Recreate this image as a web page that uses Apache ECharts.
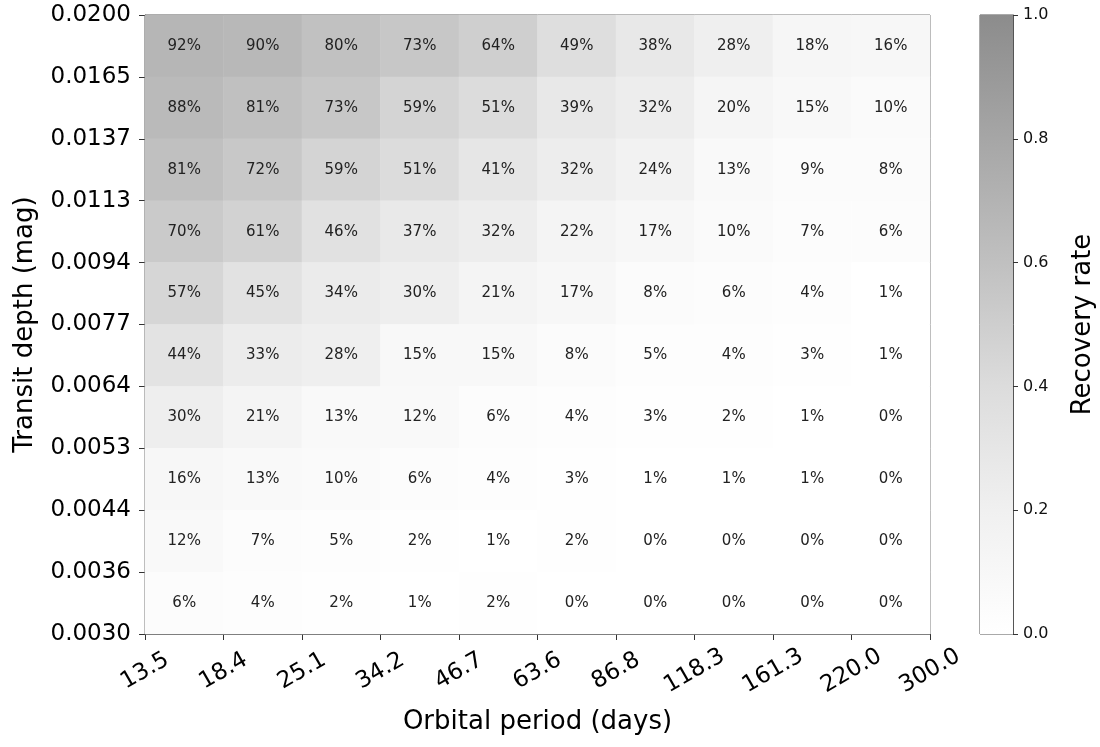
<!DOCTYPE html>
<html>
<head>
<meta charset="utf-8">
<script src="https://cdn.jsdelivr.net/npm/echarts@6/dist/echarts.min.js"></script>
<style>
html,body{margin:0;padding:0;background:#fff;}
#chart{width:1100px;height:747px;}
</style>
</head>
<body>
<div id="chart"></div>
<script>
// Tick labels at cell boundaries
const periodLabels = ['13.5','18.4','25.1','34.2','46.7','63.6','86.8','118.3','161.3','220.0','300.0'];
const depthLabels = ['0.0030','0.0036','0.0044','0.0053','0.0064','0.0077','0.0094','0.0113','0.0137','0.0165','0.0200'];

// Recovery rate (%) rows listed from top (deepest transit) to bottom
const row1  = [92, 90, 80, 73, 64, 49, 38, 28, 18, 16];
const row2  = [88, 81, 73, 59, 51, 39, 32, 20, 15, 10];
const row3  = [81, 72, 59, 51, 41, 32, 24, 13,  9,  8];
const row4  = [70, 61, 46, 37, 32, 22, 17, 10,  7,  6];
const row5  = [57, 45, 34, 30, 21, 17,  8,  6,  4,  1];
const row6  = [44, 33, 28, 15, 15,  8,  5,  4,  3,  1];
const row7  = [30, 21, 13, 12,  6,  4,  3,  2,  1,  0];
const row8  = [16, 13, 10,  6,  4,  3,  1,  1,  1,  0];
const row9  = [12,  7,  5,  2,  1,  2,  0,  0,  0,  0];
const row10 = [ 6,  4,  2,  1,  2,  0,  0,  0,  0,  0];
const rowsTopToBottom = [row1,row2,row3,row4,row5,row6,row7,row8,row9,row10];

const nx = periodLabels.length - 1;
const ny = depthLabels.length - 1;
const xCats = periodLabels.slice(0, nx);
const yCats = depthLabels.slice(0, ny);

const data = [];
rowsTopToBottom.forEach((row, r) => {
  const yi = ny - 1 - r;
  row.forEach((v, xi) => data.push([xi, yi, v / 100]));
});

// Colour scale (colorbar) and cell colours (cells drawn semi-transparent)
const barStops = [255, 240, 220, 192, 166, 140];
const cellAlpha = 0.7;
function grey(v){ v = Math.round(v); return 'rgb(' + v + ',' + v + ',' + v + ')'; }
const cellColors = barStops.map(c => grey(255 - cellAlpha * (255 - c)));
const barGradient = barStops.map((c, i) => ({offset: 1 - i / (barStops.length - 1), color: grey(c)}));

const FONT = 'DejaVu Sans';
const chart = echarts.init(document.getElementById('chart'));
chart.setOption({
  animation: false,
  backgroundColor: '#fff',
  textStyle: {fontFamily: FONT},
  grid: [
    {left: 145, top: 15, width: 785, height: 619, show: true, borderColor: '#555', borderWidth: 1, backgroundColor: 'transparent'},
    {left: 980, top: 15, width: 33, height: 619, show: true, borderColor: '#555', borderWidth: 1}
  ],
  xAxis: [
    {type: 'category', gridIndex: 0, data: xCats, show: false},
    {type: 'value', gridIndex: 0, min: 0, max: nx, interval: 1, position: 'bottom',
     axisLine: {show: true, lineStyle: {color: '#555', width: 1}},
     axisTick: {show: true, length: 6, lineStyle: {color: '#333'}},
     splitLine: {show: false},
     axisLabel: {formatter: v => periodLabels[Math.round(v)], rotate: 30, align: 'center', verticalAlign: 'middle',
                 margin: 37, fontSize: 23, color: '#000', fontFamily: FONT, showMinLabel: true, showMaxLabel: true},
     name: 'Orbital period (days)', nameLocation: 'middle', nameGap: 75,
     nameTextStyle: {fontSize: 26, color: '#000', fontFamily: FONT}},
    {type: 'category', gridIndex: 1, data: [''], show: false}
  ],
  yAxis: [
    {type: 'category', gridIndex: 0, data: yCats, show: false},
    {type: 'value', gridIndex: 0, min: 0, max: ny, interval: 1, position: 'left',
     axisLine: {show: true, lineStyle: {color: '#555', width: 1}},
     axisTick: {show: true, length: 6, lineStyle: {color: '#333'}},
     splitLine: {show: false},
     axisLabel: {formatter: v => depthLabels[Math.round(v)], margin: 14, fontSize: 23, color: '#000', fontFamily: FONT,
                 showMinLabel: true, showMaxLabel: true},
     name: 'Transit depth (mag)', nameLocation: 'middle', nameGap: 107, nameRotate: 90,
     nameTextStyle: {fontSize: 26, color: '#000', fontFamily: FONT}},
    {type: 'value', gridIndex: 1, min: 0, max: 1, interval: 0.2, position: 'right',
     axisLine: {show: true, lineStyle: {color: '#555', width: 1}},
     axisTick: {show: true, length: 5, lineStyle: {color: '#333'}},
     splitLine: {show: false},
     axisLabel: {formatter: v => v.toFixed(1), margin: 10, fontSize: 16, color: '#111', fontFamily: FONT,
                 showMinLabel: true, showMaxLabel: true},
     name: 'Recovery rate', nameLocation: 'middle', nameGap: 57, nameRotate: 90,
     nameTextStyle: {fontSize: 26, color: '#000', fontFamily: FONT}}
  ],
  visualMap: {show: false, min: 0, max: 1, seriesIndex: 0, dimension: 2, inRange: {color: cellColors}},
  series: [
    {type: 'heatmap', xAxisIndex: 0, yAxisIndex: 0, data: data,
     label: {show: true, formatter: p => Math.round(p.value[2] * 100) + '%', fontSize: 15, color: '#222', fontFamily: FONT},
     itemStyle: {borderWidth: 0},
     emphasis: {disabled: true}},
    {type: 'bar', xAxisIndex: 2, yAxisIndex: 2, data: [1], barWidth: '100%', silent: true,
     itemStyle: {color: new echarts.graphic.LinearGradient(0, 1, 0, 0, barGradient.map(s => ({offset: 1 - s.offset, color: s.color})))}}
  ]
});
</script>
</body>
</html>
